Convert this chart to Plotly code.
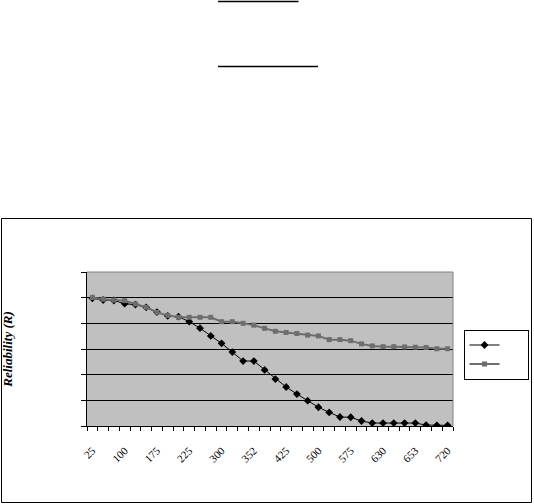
import plotly.graph_objects as go

# ---- data ----
tick_labels = ["25", "100", "175", "225", "300", "352", "425", "500", "575", "630", "653", "720"]
n_categories = 34
label_step = 3

series_black = [0.995, 0.982, 0.978, 0.953, 0.945, 0.925, 0.888, 0.858, 0.852, 0.813,
                0.762, 0.702, 0.644, 0.576, 0.506, 0.506, 0.437, 0.366, 0.304, 0.249,
                0.197, 0.146, 0.106, 0.070, 0.068, 0.039, 0.023, 0.023, 0.023, 0.023,
                0.023, 0.007, 0.005, 0.005]
series_gray = [1.002, 0.988, 0.981, 0.977, 0.951, 0.925, 0.885, 0.862, 0.847, 0.847,
               0.847, 0.847, 0.813, 0.813, 0.800, 0.786, 0.761, 0.738, 0.729, 0.721,
               0.708, 0.702, 0.673, 0.673, 0.665, 0.640, 0.624, 0.618, 0.618, 0.616,
               0.614, 0.612, 0.602, 0.602]

x_idx = list(range(n_categories))
tick_pos = x_idx[::label_step]

W, H = 534, 504
L, R, T, B = 87, 81, 272, 78
pw, ph = W - L - R, H - T - B

def px_x(x):
    return (x - L) / pw

def px_y(y):
    return (H - B - y) / ph

blank_name = "\u00a0" * 14

fig = go.Figure()
fig.add_trace(go.Scatter(
    x=x_idx, y=series_black, mode="lines+markers", name=blank_name,
    line=dict(color="black", width=1),
    marker=dict(symbol="diamond", size=6, color="black"),
))
fig.add_trace(go.Scatter(
    x=x_idx, y=series_gray, mode="lines+markers", name=blank_name,
    line=dict(color="#6e6e6e", width=2),
    marker=dict(symbol="square", size=5, color="#6e6e6e"),
))

shapes = [
    # outer chart border
    dict(type="rect", xref="paper", yref="paper",
         x0=px_x(1.5), x1=px_x(531.5), y0=px_y(218.5), y1=px_y(502.5),
         line=dict(color="black", width=1), layer="below"),
    # plot-area top/right edges (gray)
    dict(type="line", xref="paper", yref="paper", x0=0, x1=1, y0=1, y1=1,
         line=dict(color="#808080", width=1)),
    dict(type="line", xref="paper", yref="paper", x0=1, x1=1, y0=0, y1=1,
         line=dict(color="#808080", width=1)),
    # underline rules at top of page
    dict(type="line", xref="paper", yref="paper",
         x0=px_x(218), x1=px_x(298.5), y0=px_y(1.5), y1=px_y(1.5),
         line=dict(color="black", width=1.3)),
    dict(type="line", xref="paper", yref="paper",
         x0=px_x(218), x1=px_x(318), y0=px_y(66.5), y1=px_y(66.5),
         line=dict(color="black", width=1.3)),
]

fig.update_layout(
    width=W, height=H,
    margin=dict(l=L, r=R, t=T, b=B, autoexpand=False),
    paper_bgcolor="white",
    plot_bgcolor="#c0c0c0",
    font=dict(family="Liberation Serif", size=11, color="black"),
    shapes=shapes,
    showlegend=True,
    legend=dict(
        x=px_x(463.5), y=px_y(329.5), xanchor="left", yanchor="top",
        bgcolor="white", bordercolor="black", borderwidth=1,
        font=dict(size=5), itemwidth=30, tracegroupgap=0,
    ),
    xaxis=dict(
        range=[-0.5, n_categories - 0.5], automargin=False,
        showline=True, linecolor="black", linewidth=1,
        showgrid=False, zeroline=False,
        tickmode="array", tickvals=tick_pos, ticktext=tick_labels,
        tickangle=-45, ticks="outside", ticklen=0, ticklabelstandoff=13,
        tickfont=dict(family="Liberation Serif", size=11),
        minor=dict(ticks="outside", ticklen=4, tickcolor="black",
                   tickmode="linear", tick0=-0.5, dtick=1, showgrid=False),
    ),
    yaxis=dict(
        range=[0, 1.2], automargin=False,
        showline=True, linecolor="black", linewidth=1,
        showgrid=True, gridcolor="black", gridwidth=1, zeroline=False,
        dtick=0.2, tick0=0, ticks="outside", ticklen=5, tickcolor="black",
        showticklabels=False,
        title=dict(text="<b><i>Reliability (R)</i></b>", standoff=73,
                   font=dict(family="Liberation Serif", size=13)),
    ),
)

fig.write_html(
    "out.html",
    config={"displayModeBar": False},
    post_script="document.body.style.margin='0';document.body.style.padding='0';",
)
